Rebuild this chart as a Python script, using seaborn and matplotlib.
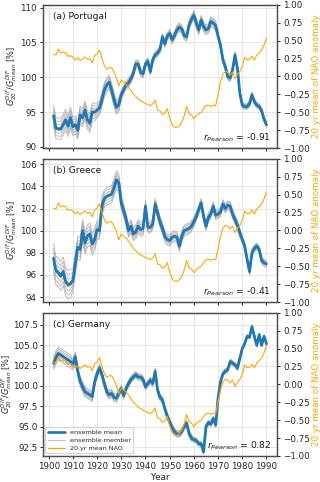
import numpy as np
import pandas as pd
import matplotlib
matplotlib.use("Agg")
import matplotlib.pyplot as plt
import seaborn as sns
from matplotlib.lines import Line2D

years = list(range(1902, 1991))

portugal_mean = [
  94.5, 92.7, 92.6, 92.6, 93.2, 93.9, 93.0, 94.2, 92.9, 93.2,
  92.4, 94.6, 94.2, 95.3, 93.9, 93.4, 95.0, 95.0, 95.3, 95.6,
  96.8, 98.2, 98.9, 99.3, 98.2, 96.8, 95.7, 96.1, 97.5, 98.2,
  98.9, 99.2, 99.8, 100.6, 101.9, 101.9, 100.7, 100.5, 101.9, 102.3,
  100.8, 102.5, 103.2, 103.5, 104.0, 105.8, 104.8, 105.9, 106.3, 105.4,
  106.0, 106.8, 107.2, 106.9, 106.0, 105.8, 107.5, 108.3, 108.9, 107.8,
  106.8, 108.2, 107.3, 106.8, 107.0, 108.0, 107.8, 107.4, 105.9, 104.6,
  102.5, 101.5, 100.1, 99.9, 101.1, 103.2, 101.3, 97.7, 96.0, 95.8,
  95.8, 96.2, 97.5, 96.5, 96.0, 95.8, 95.2, 94.0, 93.2,
]

greece_mean = [
  97.5, 96.4, 96.2, 95.9, 96.3, 95.4, 95.1, 95.2, 95.5, 97.0,
  98.5, 98.3, 100.0, 98.9, 99.5, 99.7, 98.8, 99.2, 100.1, 100.0,
  102.2, 102.9, 103.1, 103.2, 103.3, 103.9, 104.6, 104.3, 102.5, 101.8,
  101.0, 100.0, 100.4, 99.7, 99.9, 100.4, 100.1, 100.2, 102.2, 100.3,
  100.3, 100.6, 102.4, 101.6, 100.8, 100.2, 99.5, 99.2, 99.1, 99.4,
  99.5, 99.4, 98.6, 99.5, 100.0, 100.1, 100.2, 100.4, 100.8, 101.3,
  101.9, 102.5, 101.3, 100.4, 101.2, 101.5, 102.2, 101.4, 101.5, 101.7,
  102.4, 102.0, 102.3, 102.2, 101.5, 101.0, 100.5, 99.8, 99.2, 98.6,
  97.4, 96.3, 98.0, 98.4, 98.6, 98.3, 97.3, 97.1, 97.0,
]

germany_mean = [
  102.8, 103.5, 104.0, 103.8, 103.6, 103.4, 103.2, 103.0, 102.6, 103.6,
  101.8, 100.6, 99.9, 99.3, 99.1, 98.9, 98.7, 100.5, 101.5, 102.2,
  101.4, 100.3, 99.3, 98.9, 99.1, 98.6, 98.5, 99.1, 99.7, 98.8,
  99.7, 100.3, 100.8, 101.1, 101.4, 101.1, 101.1, 100.8, 99.9, 100.3,
  100.7, 100.3, 101.8, 99.5, 98.6, 98.3, 97.2, 96.3, 95.6, 94.9,
  94.4, 94.1, 94.1, 94.4, 95.0, 95.4, 94.2, 93.6, 93.4, 93.3,
  92.9, 92.9, 91.9, 95.0, 95.5, 95.3, 96.0, 95.2, 98.5, 100.5,
  101.5, 101.8, 102.0, 103.0, 102.8, 102.6, 102.2, 103.4, 104.6, 105.2,
  106.1, 106.0, 107.3, 106.1, 105.0, 106.3, 105.0, 106.1, 105.2,
]

nao_20yr = [
  0.31, 0.30, 0.38, 0.33, 0.34, 0.33, 0.28, 0.29, 0.27, 0.23,
  0.26, 0.22, 0.25, 0.27, 0.24, 0.25, 0.19, 0.29, 0.31, 0.37,
  0.25, 0.15, 0.10, 0.12, 0.12, 0.06, -0.02, -0.13, -0.05, -0.08,
  -0.11, -0.15, -0.20, -0.25, -0.28, -0.32, -0.34, -0.36, -0.38, -0.39,
  -0.41, -0.38, -0.33, -0.47, -0.48, -0.53, -0.51, -0.45, -0.58, -0.67,
  -0.71, -0.71, -0.69, -0.64, -0.55, -0.42, -0.52, -0.54, -0.59, -0.55,
  -0.52, -0.50, -0.45, -0.41, -0.40, -0.42, -0.40, -0.41, -0.25, -0.08,
  0.03, 0.07, 0.06, 0.02, 0.06, -0.03, 0.03, 0.07, 0.14, 0.27,
  0.23, 0.24, 0.28, 0.23, 0.30, 0.33, 0.37, 0.44, 0.54,
]

# ensemble spread (half width) per decade
decade_counts = [8, 10, 10, 10, 10, 10, 10, 10, 11]
portugal_spread = [1.5, 1.3, 1.0, 0.6, 0.5, 0.6, 0.7, 0.5, 0.4]
greece_spread = [1.3, 1.0, 0.8, 0.6, 0.5, 0.5, 0.4, 0.4, 0.3]
germany_spread = [0.8, 0.6, 0.5, 0.4, 0.4, 0.4, 0.3, 0.3, 0.2]
member_weights = [-1.0, -0.7, -0.4, -0.15, 0.15, 0.4, 0.7, 1.0]

panels = [
  ("(a) Portugal", portugal_mean, portugal_spread, "-0.91", (89.85, 110.4), [90, 95, 100, 105, 110], "{:.0f}", -0.10, 2),
  ("(b) Greece", greece_mean, greece_spread, "-0.41", (93.55, 106.5), [94, 96, 98, 100, 102, 104, 106], "{:.0f}", -0.10, 2),
  ("(c) Germany", germany_mean, germany_spread, "0.82", (91.4, 109.0), [92.5, 95.0, 97.5, 100.0, 102.5, 105.0, 107.5], "{:.1f}", -0.124, 1.2),
]

FS = 6.3

sns.set_theme(style="whitegrid")
plt.rcParams.update({
  "font.family": ["DejaVu Sans"],
  "font.size": FS,
  "axes.edgecolor": "0.3",
  "axes.linewidth": 0.9,
  "grid.color": "0.9",
  "grid.linewidth": 0.7,
  "xtick.bottom": True,
  "ytick.left": True,
  "xtick.color": "0.15",
  "ytick.color": "0.15",
  "xtick.major.size": 2.5,
  "ytick.major.size": 2.5,
  "xtick.major.width": 0.7,
  "ytick.major.width": 0.7,
  "xtick.major.pad": 2,
  "ytick.major.pad": 2,
  "xtick.labelsize": FS,
  "ytick.labelsize": FS,
  "axes.labelsize": FS,
  "axes.labelcolor": "0.15",
})

fig, axes = plt.subplots(3, 1, figsize=(3.2, 4.82), dpi=100, sharex=True)
fig.subplots_adjust(left=0.134, right=0.866, top=0.99, bottom=0.054, hspace=0.075)

for ax, (title, mean, spread, r, ylim, yticks, fmt, lab_x, tpad) in zip(axes, panels):
  spread_y = np.repeat(spread, decade_counts)
  rows = []
  for k, w in enumerate(member_weights):
    for yr, m, s in zip(years, mean, spread_y):
      rows.append({"year": yr, "member": k, "value": m + w * s})
  df_mem = pd.DataFrame(rows)
  df_mean = pd.DataFrame({"year": years, "value": mean})
  df_nao = pd.DataFrame({"year": years, "nao": nao_20yr})

  sns.lineplot(data=df_mem, x="year", y="value", units="member", estimator=None,
               color="0.62", alpha=0.7, linewidth=0.7, ax=ax, legend=False)
  sns.lineplot(data=df_mean, x="year", y="value", color="tab:blue", linewidth=2.0, ax=ax)

  ax.set_ylim(*ylim)
  ax.set_yticks(yticks)
  ax.set_yticklabels([fmt.format(t) for t in yticks])
  ax.tick_params(axis="y", pad=tpad)
  ax.set_ylabel(r"$G_{20}^{DIF}/G_{mean}^{DIF}$ [%]", fontsize=5.9)
  ax.yaxis.set_label_coords(lab_x, 0.5)
  ax.set_xlabel("Year", labelpad=1)
  ax.text(0.045, 0.915, title, transform=ax.transAxes, ha="left", va="center", fontsize=FS + 0.3, color="0.1")

  ax2 = ax.twinx()
  sns.lineplot(data=df_nao, x="year", y="nao", color="orange", linewidth=0.8, ax=ax2)
  ax2.set_ylim(-1, 1)
  ax2.set_yticks([-1, -0.75, -0.5, -0.25, 0, 0.25, 0.5, 0.75, 1])
  ax2.set_yticklabels(["\u22121.00", "\u22120.75", "\u22120.50", "\u22120.25", "0.00", "0.25", "0.50", "0.75", "1.00"])
  ax2.grid(False)
  ax2.tick_params(axis="y", right=True, length=2.5, width=0.7, pad=2)
  ax2.set_ylabel("20 yr mean of NAO anomaly", color="orange", labelpad=1)
  for sp in ax2.spines.values():
    sp.set_edgecolor("0.3")
  ax.text(0.975, 0.07, r"$r_{Pearson}$ = " + r, transform=ax.transAxes,
          ha="right", va="center", fontsize=FS + 0.3, color="0.1")

axes[2].set_xticks(range(1900, 1991, 10))
for ax in axes[:2]:
  ax.set_xlabel("")

handles = [
  Line2D([0], [0], color="tab:blue", linewidth=1.9),
  Line2D([0], [0], color="0.75", linewidth=0.8),
  Line2D([0], [0], color="orange", linewidth=0.9),
]
axes[2].legend(handles, ["ensemble mean", "ensemble member", "20 yr mean NAO"],
               loc="lower left", fontsize=4.6, frameon=True, borderpad=0.4,
               labelspacing=0.35, handlelength=2.6, borderaxespad=0.4)

plt.savefig("out.png", dpi=100)
plt.close()
